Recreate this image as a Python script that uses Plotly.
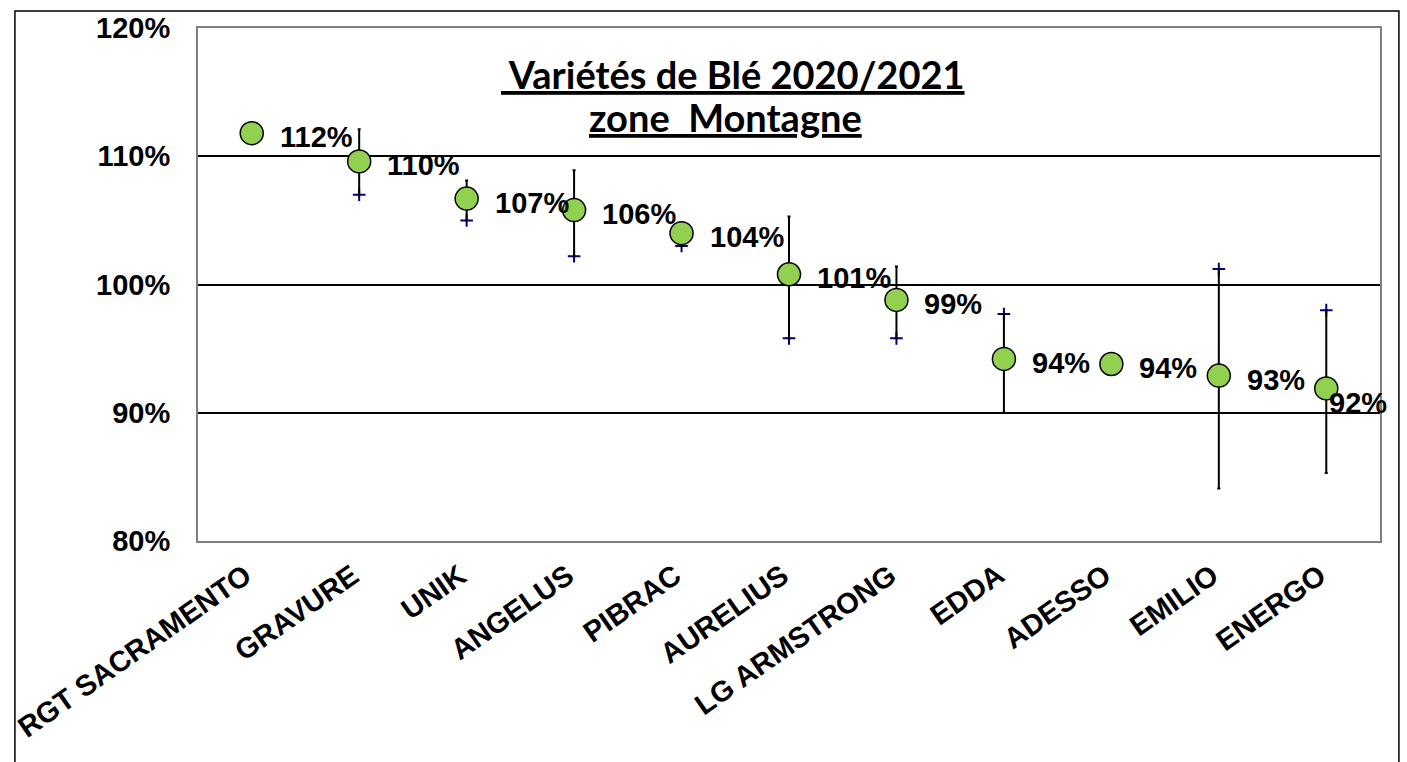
import plotly.graph_objects as go

# Données (rendement relatif)
varietes = ['RGT SACRAMENTO', 'GRAVURE', 'UNIK', 'ANGELUS', 'PIBRAC', 'AURELIUS',
            'LG ARMSTRONG', 'EDDA', 'ADESSO', 'EMILIO', 'ENERGO']
rendement = [1.118, 1.096, 1.067, 1.058, 1.040, 1.008, 0.988, 0.942, 0.938, 0.929, 0.919]
borne_croix = [None, 1.070, 1.050, 1.022, 1.030, 0.958, 0.958, 0.977, None, 1.012, 0.980]
borne_point = [None, 1.121, 1.081, 1.089, 1.046, 1.053, 1.014, 0.900, None, 0.841, 0.853]

err_plus = []
err_moins = []
for v, a, b in zip(rendement, borne_croix, borne_point):
    if a is None:
        err_plus.append(0)
        err_moins.append(0)
    else:
        err_plus.append(max(a, b) - v)
        err_moins.append(v - min(a, b))

fig = go.Figure()

fig.add_trace(go.Scatter(
    x=varietes, y=borne_croix, mode='markers',
    marker=dict(symbol='cross-thin', size=9, line=dict(color='#000080', width=2)),
    showlegend=False, cliponaxis=False,
))

fig.add_trace(go.Scatter(
    x=varietes, y=rendement, mode='markers',
    marker=dict(color='#92D050', size=23, line=dict(color='black', width=1.5)),
    error_y=dict(type='data', symmetric=False, array=err_plus, arrayminus=err_moins,
                 color='black', thickness=2, width=1.5),
    showlegend=False, cliponaxis=False,
))

# étiquettes de données à droite des points (la dernière décalée vers le bas)
etiquettes = []
for i, (nom, v) in enumerate(zip(varietes, rendement)):
    dernier = i == len(varietes) - 1
    etiquettes.append(dict(
        x=nom, y=v, xref='x', yref='y', text=f'{v:.0%}', showarrow=False,
        xanchor='left', yanchor='middle',
        xshift=1 if dernier else 26, yshift=-15 if dernier else -4,
        font=dict(family='Liberation Sans, Arial', size=29, color='black', weight='bold'),
    ))

# titre (positions en pixels de la page)
L, T, W, H = 192, 25, 1188, 516
police_titre = dict(family='Lato, Open Sans', size=38, color='black', weight='bold')
etiquettes.append(dict(
    xref='paper', yref='paper', x=(730 - L) / W, y=(T + H - 71) / H,
    xanchor='center', yanchor='middle', showarrow=False,
    text='<u> Variétés de Blé 2020/2021</u>', font=police_titre,
))
etiquettes.append(dict(
    xref='paper', yref='paper', x=(722 - L) / W, y=(T + H - 115) / H,
    xanchor='center', yanchor='middle', showarrow=False,
    text='<u>zone  Montagne</u>', font=police_titre,
))

fig.update_layout(
    width=1407, height=762,
    margin=dict(l=L, r=1407 - L - W, t=T, b=762 - T - H),
    paper_bgcolor='white', plot_bgcolor='white',
    font=dict(family='Liberation Sans, Arial', color='black'),
    xaxis=dict(
        type='category', range=[-0.5, 10.5], showgrid=False,
        showline=True, linecolor='#808080', linewidth=2, mirror=True,
        tickangle=-35, ticks='',
        tickvals=varietes, ticktext=[v + ' ' for v in varietes],
        tickfont=dict(family='Liberation Sans, Arial', size=29, weight='bold'),
    ),
    yaxis=dict(
        range=[0.8, 1.2], tickvals=[0.8, 0.9, 1.0, 1.1, 1.2], tickformat='.0%',
        showgrid=True, gridcolor='black', gridwidth=2,
        showline=True, linecolor='#808080', linewidth=2, mirror=True,
        ticks='', ticklabelstandoff=20, zeroline=False,
        tickfont=dict(family='Liberation Sans, Arial', size=29, weight='bold'),
    ),
    shapes=[dict(type='rect', xref='paper', yref='paper',
                 x0=(8 - L) / W, x1=(1399 - L) / W,
                 y0=(T + H - 800) / H, y1=(T + H - 8) / H,
                 line=dict(color='black', width=1.5), layer='below')],
    annotations=etiquettes,
)

# page sans marge : la figure occupe exactement la fenêtre
fig.write_html('out.html', config={'displayModeBar': False},
               post_script="document.body.style.margin='0';document.body.style.overflow='hidden';")
